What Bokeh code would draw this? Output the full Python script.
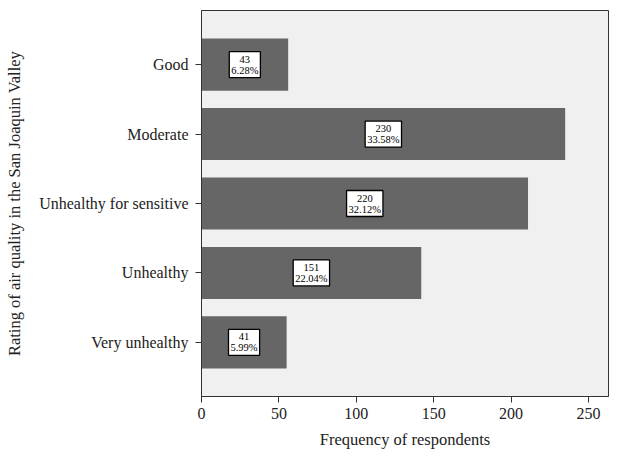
from bokeh.plotting import figure
from bokeh.models import Range1d, FixedTicker, ColumnDataSource
from bokeh.core.properties import value
from bokeh.embed import file_html
from bokeh.resources import INLINE

categories = ["Good", "Moderate", "Unhealthy for sensitive", "Unhealthy", "Very unhealthy"]
bar_lengths = [56, 235, 211, 142, 55]
counts = [43, 230, 220, 151, 41]
percents = ["6.28%", "33.58%", "32.12%", "22.04%", "5.99%"]

n = len(categories)
ypos = [n - 1 - i for i in range(n)]
labels = [f"{c}\n{p}" for c, p in zip(counts, percents)]
src = ColumnDataSource(dict(y=ypos, right=bar_lengths, mid=[b / 2 for b in bar_lengths], lab=labels))

FONT = "Liberation Serif"

p = figure(frame_width=407, frame_height=386, output_backend="svg", toolbar_location=None,
           x_range=Range1d(0, 263), y_range=Range1d(-0.78, n - 1 + 0.78),
           min_border_left=201, min_border_top=10, min_border_right=4, min_border_bottom=50)
p.background_fill_color = "#f0f0f0"
p.border_fill_color = "white"
p.outline_line_color = "#333333"
p.outline_line_width = 1
p.grid.visible = False

p.hbar(y="y", left=0, right="right", height=0.75, source=src, fill_color="#666666", line_color=None)
p.text(x="mid", y="y", text="lab", source=src, text_align="center", text_baseline="middle",
       text_font=value(FONT), text_font_size="10.5px", text_color="black", text_line_height=1.0,
       background_fill_color="white", border_line_color="black", border_line_width=1.3,
       padding=2)

p.xaxis.ticker = FixedTicker(ticks=[0, 50, 100, 150, 200, 250])
p.yaxis.ticker = FixedTicker(ticks=ypos)
p.yaxis.major_label_overrides = {y: c for y, c in zip(ypos, categories)}
p.xaxis.axis_label = "Frequency of respondents"
p.yaxis.axis_label = "Rating of air quality in the San Joaquin Valley"
for ax in (p.xaxis, p.yaxis):
    ax.axis_label_text_font = FONT
    ax.axis_label_text_font_style = "normal"
    ax.axis_label_text_font_size = "16.5px"
    ax.major_label_text_font = FONT
    ax.major_label_text_font_size = "16px"
    ax.major_tick_out = 6
    ax.major_tick_in = 0
    ax.minor_tick_out = 0
    ax.minor_tick_in = 0
    ax.axis_line_color = "#333333"
    ax.major_tick_line_color = "#333333"
    ax.major_label_text_color = "#222222"
    ax.axis_label_text_color = "#222222"
p.yaxis.major_label_standoff = 7
p.xaxis.major_label_standoff = 5
p.xaxis.axis_label_standoff = 8
p.yaxis.axis_label_standoff = 12

open("out.html", "w").write(file_html(p, INLINE))
